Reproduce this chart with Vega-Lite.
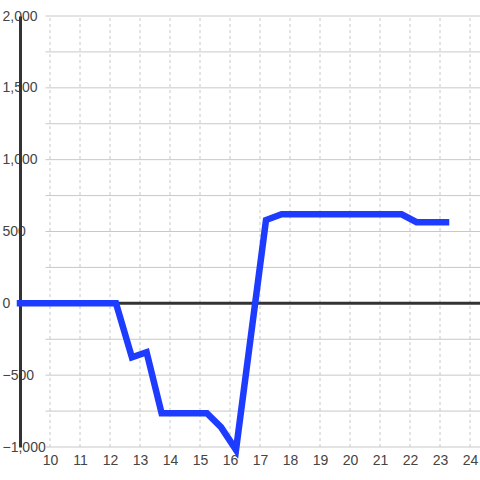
{
  "$schema": "https://vega.github.io/schema/vega-lite/v6.json",
  "autosize": "none",
  "width": 460,
  "height": 431,
  "padding": {"left": 20, "top": 16, "right": 0, "bottom": 33},
  "background": "white",
  "config": {
    "view": {"stroke": null},
    "font": "Liberation Sans",
    "axisX": {
      "title": null,
      "domain": false,
      "ticks": false,
      "grid": false,
      "labelPadding": 6,
      "labelFontSize": 14,
      "labelColor": "#444444",
      "labelBaseline": "top",
      "labelFlush": false,
      "labelOverlap": false
    },
    "axisY": {
      "title": null,
      "grid": false,
      "ticks": false,
      "tickSize": 0,
      "domain": true,
      "domainColor": "#333333",
      "domainWidth": 3,
      "labelAlign": "left",
      "labelBaseline": "middle",
      "labelPadding": 18,
      "labelFontSize": 14,
      "labelColor": "#444444",
      "labelOverlap": false
    }
  },
  "datasets": {
    "series": [
      {"x": 9, "y": 0},
      {"x": 12.2, "y": 0},
      {"x": 12.73, "y": -376},
      {"x": 13.22, "y": -340},
      {"x": 13.72, "y": -765},
      {"x": 15.23, "y": -765},
      {"x": 15.7, "y": -862},
      {"x": 16.2, "y": -1020},
      {"x": 17.2, "y": 580},
      {"x": 17.72, "y": 620},
      {"x": 21.72, "y": 620},
      {"x": 22.22, "y": 565},
      {"x": 23.2, "y": 565}
    ],
    "grid": [
      {"g": -1000}, {"g": -750}, {"g": -500}, {"g": -250}, {"g": 0},
      {"g": 250}, {"g": 500}, {"g": 750}, {"g": 1000}, {"g": 1250},
      {"g": 1500}, {"g": 1750}, {"g": 2000}
    ],
    "vgrid": [
      {"v": 10}, {"v": 11}, {"v": 12}, {"v": 13}, {"v": 14}, {"v": 15}, {"v": 16},
      {"v": 17}, {"v": 18}, {"v": 19}, {"v": 20}, {"v": 21}, {"v": 22}, {"v": 23}, {"v": 24}
    ]
  },
  "layer": [
    {
      "data": {"name": "vgrid"},
      "mark": {"type": "rule", "color": "#c8c8c8", "strokeWidth": 1, "strokeDash": [3, 3]},
      "encoding": {
        "x": {"field": "v", "type": "quantitative",
          "scale": {"domain": [9, 24.333], "nice": false, "zero": false},
          "axis": {"values": [10, 11, 12, 13, 14, 15, 16, 17, 18, 19, 20, 21, 22, 23, 24]}},
        "y": {"datum": -1000, "type": "quantitative",
          "scale": {"domain": [-1000, 2000], "nice": false, "zero": false},
          "axis": {"values": [-1000, -500, 0, 500, 1000, 1500, 2000], "format": ",d",
            "labelExpr": "datum.value < 0 ? datum.label : '\u00a0' + datum.label"}},
        "y2": {"datum": 2000}
      }
    },
    {
      "data": {"name": "grid"},
      "mark": {"type": "rule", "color": "#c8c8c8", "strokeWidth": 1},
      "encoding": {
        "y": {"field": "g", "type": "quantitative",
          "axis": {"values": [-1000, -500, 0, 500, 1000, 1500, 2000], "format": ",d",
            "labelExpr": "datum.value < 0 ? datum.label : '\u00a0' + datum.label"}},
        "x": {"datum": 9.85, "type": "quantitative",
          "axis": {"values": [10, 11, 12, 13, 14, 15, 16, 17, 18, 19, 20, 21, 22, 23, 24]}},
        "x2": {"datum": 24.333}
      }
    },
    {
      "data": {"name": "grid"},
      "mark": {"type": "rule", "color": "#333333", "strokeWidth": 3},
      "transform": [{"filter": "datum.g === 0"}],
      "encoding": {
        "y": {"field": "g", "type": "quantitative",
          "axis": {"values": [-1000, -500, 0, 500, 1000, 1500, 2000], "format": ",d",
            "labelExpr": "datum.value < 0 ? datum.label : '\u00a0' + datum.label"}},
        "x": {"datum": 9, "type": "quantitative",
          "axis": {"values": [10, 11, 12, 13, 14, 15, 16, 17, 18, 19, 20, 21, 22, 23, 24]}},
        "x2": {"datum": 24.333}
      }
    },
    {
      "data": {"name": "series"},
      "mark": {"type": "line", "color": "#1e3cff", "strokeWidth": 6.5, "strokeCap": "square", "strokeJoin": "miter"},
      "encoding": {
        "x": {"field": "x", "type": "quantitative",
          "axis": {"values": [10, 11, 12, 13, 14, 15, 16, 17, 18, 19, 20, 21, 22, 23, 24]}},
        "y": {"field": "y", "type": "quantitative",
          "axis": {"values": [-1000, -500, 0, 500, 1000, 1500, 2000], "format": ",d",
            "labelExpr": "datum.value < 0 ? datum.label : '\u00a0' + datum.label"}}
      }
    }
  ]
}
